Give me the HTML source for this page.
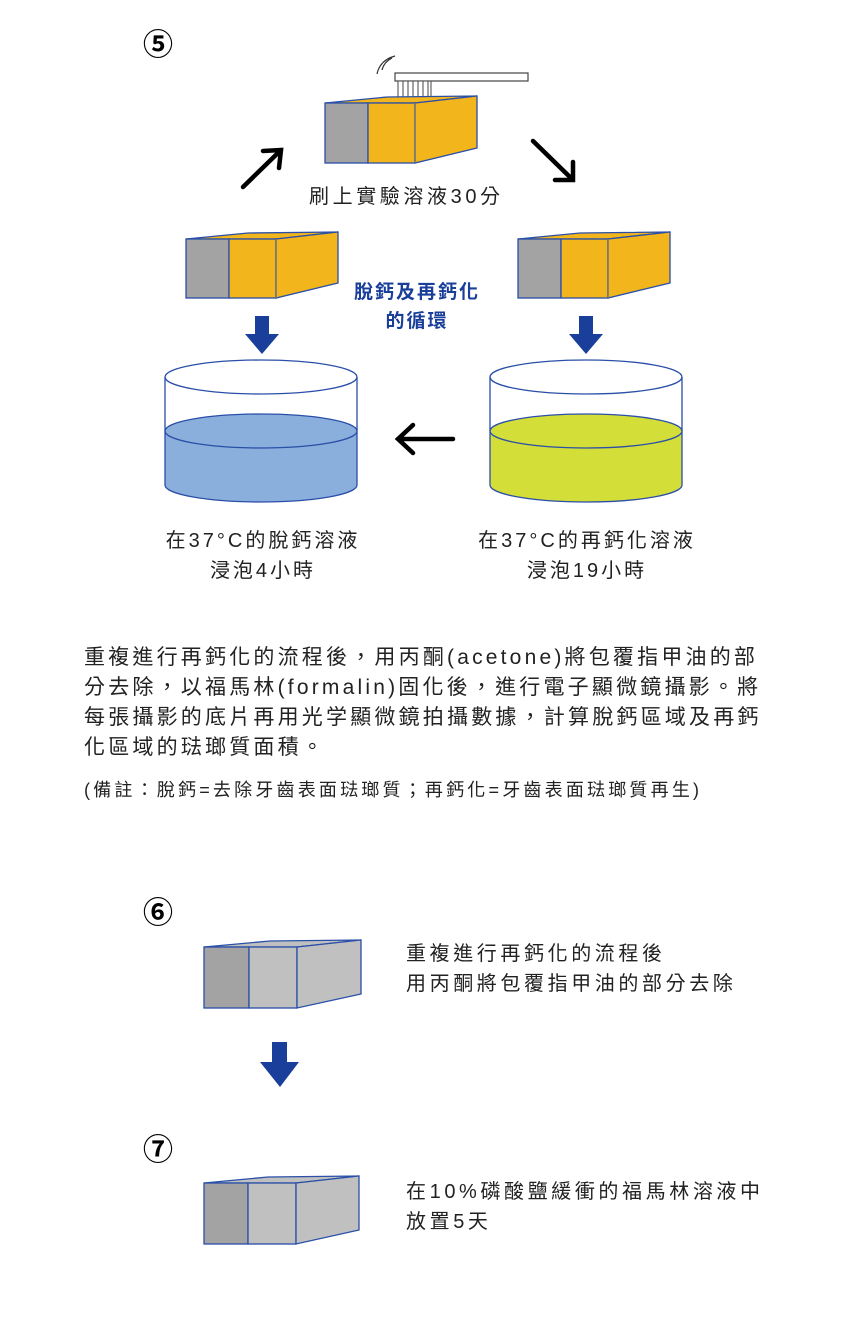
<!DOCTYPE html>
<html><head><meta charset="utf-8"><style>
body{margin:0;width:850px;height:1327px;background:#fff;position:relative;overflow:hidden;font-family:"Liberation Sans","Noto Sans CJK TC",sans-serif;color:#222}
.t{position:absolute;white-space:nowrap}
svg{position:absolute;left:0;top:0}
</style></head><body>
<svg width="850" height="1327" viewBox="0 0 850 1327">
<!-- toothbrush -->
<path d="M382 70 Q384 62 392 58 M377 74 Q380 60 395 56" fill="none" stroke="#333" stroke-width="1.2"/>
<rect x="395" y="73" width="133" height="8" fill="#fff" stroke="#444" stroke-width="1.2"/>
<rect x="398" y="81" width="33" height="19" fill="#fff" stroke="#444" stroke-width="1"/>
<path d="M403 81V100M408 81V100M413 81V100M418 81V100M423 81V100M428 81V100" stroke="#444" stroke-width="1"/>
<g stroke-width="1.3">
<polygon points="325,103 387,97 477,96 415,103" fill="#f2b51c" stroke="#2a4fa8"/>
<rect x="325" y="103" width="43" height="60" fill="#a3a3a3" stroke="#2a4fa8"/>
<rect x="368" y="103" width="47" height="60" fill="#f2b51c" stroke="#2a4fa8"/>
<polygon points="415,103 477,96 477,148 415,163" fill="#f2b51c" stroke="#2a4fa8"/>
<line x1="415" y1="103" x2="415" y2="163" stroke="#777"/>
</g>
<g stroke-width="1.3">
<polygon points="186,239 248,233 338,232 276,239" fill="#f2b51c" stroke="#2a4fa8"/>
<rect x="186" y="239" width="43" height="59" fill="#a3a3a3" stroke="#2a4fa8"/>
<rect x="229" y="239" width="47" height="59" fill="#f2b51c" stroke="#2a4fa8"/>
<polygon points="276,239 338,232 338,283 276,298" fill="#f2b51c" stroke="#2a4fa8"/>
<line x1="276" y1="239" x2="276" y2="298" stroke="#777"/>
</g>
<g stroke-width="1.3">
<polygon points="518,239 580,233 670,232 608,239" fill="#f2b51c" stroke="#2a4fa8"/>
<rect x="518" y="239" width="43" height="59" fill="#a3a3a3" stroke="#2a4fa8"/>
<rect x="561" y="239" width="47" height="59" fill="#f2b51c" stroke="#2a4fa8"/>
<polygon points="608,239 670,232 670,283 608,298" fill="#f2b51c" stroke="#2a4fa8"/>
<line x1="608" y1="239" x2="608" y2="298" stroke="#777"/>
</g>
<g stroke="#000" stroke-width="4.5" fill="none" stroke-linecap="round">
<path d="M243 187 L281 150 M263 151 L281 150 L279 168"/>
<path d="M533 141 L573 180 M573 162 L573 180 L555 180"/>
<path d="M453 439 L398 439 M413 425 L398 439 L413 453"/>
</g>
<g fill="#1a3f9b">
<polygon points="255,316 269,316 269,334 279,334 262,354 245,334 255,334"/>
<polygon points="579,316 593,316 593,334 603,334 586,354 569,334 579,334"/>
<polygon points="272,1042 287,1042 287,1062 299,1062 280,1087 260,1062 272,1062"/>
</g>
<g stroke="#2a4fa8" stroke-width="1.3">
<path d="M165 431 V485 A96 17 0 0 0 357 485 V431 Z" fill="#8aafdc"/>
<ellipse cx="261" cy="431" rx="96" ry="17" fill="#8aafdc"/>
<ellipse cx="261" cy="377" rx="96" ry="17" fill="#fff"/>
<line x1="165" y1="377" x2="165" y2="431"/><line x1="357" y1="377" x2="357" y2="431"/>
<path d="M490 431 V485 A96 17 0 0 0 682 485 V431 Z" fill="#d3de38"/>
<ellipse cx="586" cy="431" rx="96" ry="17" fill="#d3de38"/>
<ellipse cx="586" cy="377" rx="96" ry="17" fill="#fff"/>
<line x1="490" y1="377" x2="490" y2="431"/><line x1="682" y1="377" x2="682" y2="431"/>
</g>
<g stroke="#2a4fa8" stroke-width="1.3">
<polygon points="204,947 270,941 361,940 297,947" fill="#c0c0c0"/>
<rect x="204" y="947" width="45" height="61" fill="#a3a3a3"/>
<rect x="249" y="947" width="48" height="61" fill="#c0c0c0"/>
<polygon points="297,947 361,940 361,994 297,1008" fill="#c0c0c0"/>
</g>
<g stroke="#2a4fa8" stroke-width="1.3">
<polygon points="204,1183 268,1177 359,1176 296,1183" fill="#c0c0c0"/>
<rect x="204" y="1183" width="44" height="61" fill="#a3a3a3"/>
<rect x="248" y="1183" width="48" height="61" fill="#c0c0c0"/>
<polygon points="296,1183 359,1176 359,1230 296,1244" fill="#c0c0c0"/>
</g>
</svg>
<div class="t" style="left:143px;top:20px;font-size:30px;font-weight:bold;color:#000">⑤</div>
<div class="t" style="left:143px;top:888px;font-size:30px;font-weight:bold;color:#000">⑥</div>
<div class="t" style="left:143px;top:1125px;font-size:30px;font-weight:bold;color:#000">⑦</div>
<div class="t" style="left:309px;top:180px;font-size:20px;letter-spacing:3.6px">刷上實驗溶液30分</div>
<div class="t" style="left:354px;top:278px;font-size:19px;letter-spacing:2px;font-weight:bold;color:#1a3f9b;text-align:center;line-height:29px">脫鈣及再鈣化<br>的循環</div>
<div class="t" style="left:153px;top:526px;width:220px;font-size:20px;letter-spacing:3px;text-align:center;line-height:30px">在37°C的脫鈣溶液<br>浸泡4小時</div>
<div class="t" style="left:466px;top:526px;width:242px;font-size:20px;letter-spacing:3px;text-align:center;line-height:30px">在37°C的再鈣化溶液<br>浸泡19小時</div>
<div class="t" style="left:84px;top:643px;font-size:21px;letter-spacing:3.2px;line-height:30px">重複進行再鈣化的流程後，用丙酮(acetone)將包覆指甲油的部<br>分去除，以福馬林(formalin)固化後，進行電子顯微鏡攝影。將<br>每張攝影的底片再用光学顯微鏡拍攝數據，計算脫鈣區域及再鈣<br>化區域的琺瑯質面積。</div>
<div class="t" style="left:84px;top:776px;font-size:18px;letter-spacing:3.2px">(備註：脫鈣=去除牙齒表面琺瑯質；再鈣化=牙齒表面琺瑯質再生)</div>
<div class="t" style="left:406px;top:939px;font-size:20px;letter-spacing:3.6px;line-height:30px">重複進行再鈣化的流程後<br>用丙酮將包覆指甲油的部分去除</div>
<div class="t" style="left:406px;top:1177px;font-size:20px;letter-spacing:3.6px;line-height:30px">在10%磷酸鹽緩衝的福馬林溶液中<br>放置5天</div>
</body></html>
